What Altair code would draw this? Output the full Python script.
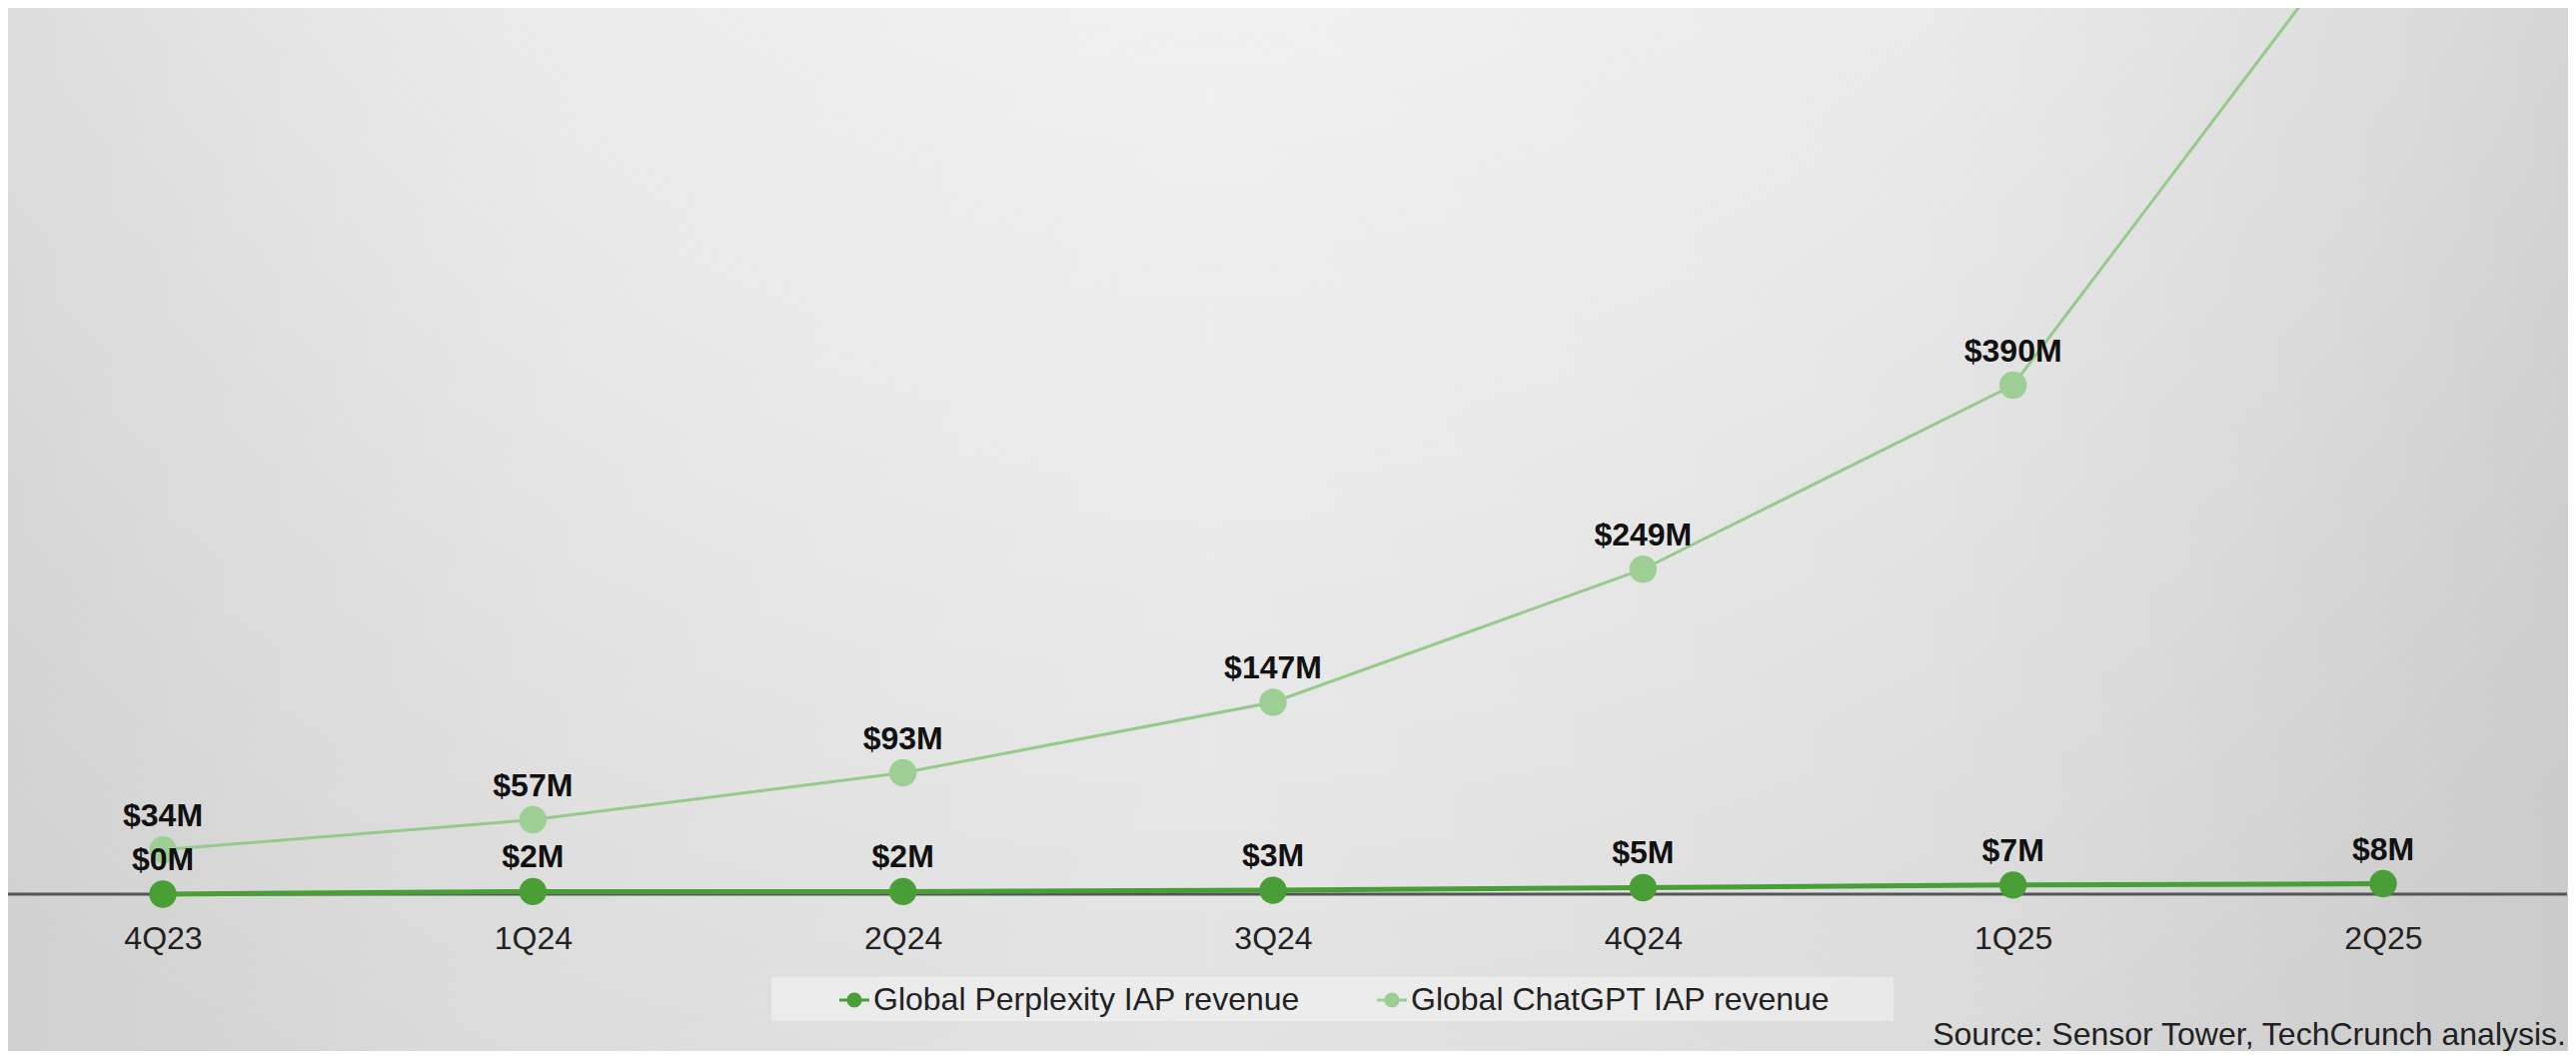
import altair as alt
import pandas as pd

quarters = ["4Q23", "1Q24", "2Q24", "3Q24", "4Q24", "1Q25", "2Q25"]
perplexity = [0, 2, 2, 3, 5, 7, 8]
chatgpt = [34, 57, 93, 147, 249, 390, 765]
series = ["Global Perplexity IAP revenue", "Global ChatGPT IAP revenue"]
colors_line = ["#4a9e36", "#95ca8b"]
colors_point = ["#4a9e36", "#9dcf95"]
source = "Source: Sensor Tower, TechCrunch analysis."

rows = []
for q, v in zip(quarters, perplexity):
    rows.append({"quarter": q, "value": v, "series": series[0], "label": f"${v}M"})
for q, v in zip(quarters, chatgpt):
    rows.append({"quarter": q, "value": v, "series": series[1], "label": f"${v}M"})
df = pd.DataFrame(rows)

FONT = "Liberation Sans, Arial, Helvetica, sans-serif"
W, H = 2561, 887
YMAX = 679

x = alt.X("quarter:O", sort=quarters,
          scale=alt.Scale(type="point", range=[155, 2377], padding=0),
          axis=alt.Axis(title=None, domain=False, ticks=False, grid=False,
                        labelAngle=0, labelFontSize=32, labelFont=FONT,
                        labelColor="#222222", labelPadding=29, zindex=2))
y = alt.Y("value:Q", scale=alt.Scale(domain=[0, YMAX], nice=False, zero=True), axis=None)

path = "M-1,-0.1L1,-0.1L1,0.1L-1,0.1Z M0.5,0A0.5,0.5,0,1,1,-0.5,0A0.5,0.5,0,1,1,0.5,0Z"
fill = alt.Fill("series:N", scale=alt.Scale(domain=series, range=colors_point),
                legend=alt.Legend(orient="none", legendX=831, legendY=977,
                                  direction="horizontal", title=None,
                                  symbolType=path, symbolSize=900,
                                  labelFontSize=32, labelFont=FONT,
                                  labelColor="#222222", labelOffset=3,
                                  columnPadding=76, padding=0, labelLimit=900))

one = pd.DataFrame({"a": [0]})

bg = alt.Chart(one).mark_rect(
    fill=alt.LinearGradient(gradient="linear", x1=0, x2=1, y1=0, y2=0, stops=[
        alt.GradientStop(color="#d1d1d1", offset=0),
        alt.GradientStop(color="#dbdbdb", offset=0.22),
        alt.GradientStop(color="#e0e0e0", offset=0.47),
        alt.GradientStop(color="#dadada", offset=0.75),
        alt.GradientStop(color="#cbcbcb", offset=1),
    ])
).encode(x=alt.value(-8), x2=alt.value(W + 9), y=alt.value(-8), y2=alt.value(1052))

glow = alt.Chart(one).mark_rect(
    fill=alt.RadialGradient(gradient="radial", x1=0.47, y1=0, r1=0,
                            x2=0.47, y2=0, r2=0.8, stops=[
        alt.GradientStop(color="rgba(255,255,255,0.8)", offset=0),
        alt.GradientStop(color="rgba(255,255,255,0.6)", offset=0.3),
        alt.GradientStop(color="rgba(255,255,255,0.35)", offset=0.6),
        alt.GradientStop(color="rgba(255,255,255,0.1)", offset=0.85),
        alt.GradientStop(color="rgba(255,255,255,0)", offset=1),
    ])
).encode(x=alt.value(-8), x2=alt.value(W + 9), y=alt.value(-8), y2=alt.value(1052))

legend_box = alt.Chart(one).mark_rect(fill="#f4f4f4", opacity=0.55).encode(
    x=alt.value(764), x2=alt.value(1887), y=alt.value(970), y2=alt.value(1014))

baseline = alt.Chart(one).mark_rule(color="#555555", strokeWidth=3).encode(
    y=alt.value(H), x=alt.value(0), x2=alt.value(W))

base = alt.Chart(df)
cg = base.transform_filter(alt.datum.series == series[1])
pp = base.transform_filter(alt.datum.series == series[0])

cg_line = cg.mark_line(strokeWidth=3, clip=True, color=colors_line[1]).encode(x=x, y=y)
pp_line = pp.mark_line(strokeWidth=5, color=colors_line[0]).encode(x=x, y=y)
cg_pts = cg.mark_point(filled=True, size=750, opacity=1, strokeWidth=0, clip=True).encode(x=x, y=y, fill=fill)
pp_pts = pp.mark_point(filled=True, size=750, opacity=1, strokeWidth=0).encode(x=x, y=y, fill=fill)
cg_txt = cg.transform_filter(alt.datum.value <= YMAX).mark_text(
    fontSize=32, fontWeight="bold", font=FONT, color="#111111",
    dy=-24, baseline="alphabetic").encode(x=x, y=y, text="label:N")
pp_txt = pp.mark_text(fontSize=32, fontWeight="bold", font=FONT, color="#111111",
                      dy=-24, baseline="alphabetic").encode(x=x, y=y, text="label:N")

src = alt.Chart(pd.DataFrame({"t": [source]})).mark_text(
    align="right", baseline="alphabetic", fontSize=32, font=FONT, color="#222222"
).encode(text="t:N", x=alt.value(2560), y=alt.value(1038))

chart = alt.layer(bg, glow, legend_box, baseline, cg_line, pp_line, cg_pts, pp_pts,
                  cg_txt, pp_txt, src).properties(
    width=W, height=H,
    autosize=alt.AutoSizeParams(type="none"),
    padding={"left": 0, "top": 0, "right": 1, "bottom": 157},
    background="#d6d6d6",
).configure_view(stroke=None)

chart.save("out.html", embed_options={"renderer": "svg", "actions": False})
